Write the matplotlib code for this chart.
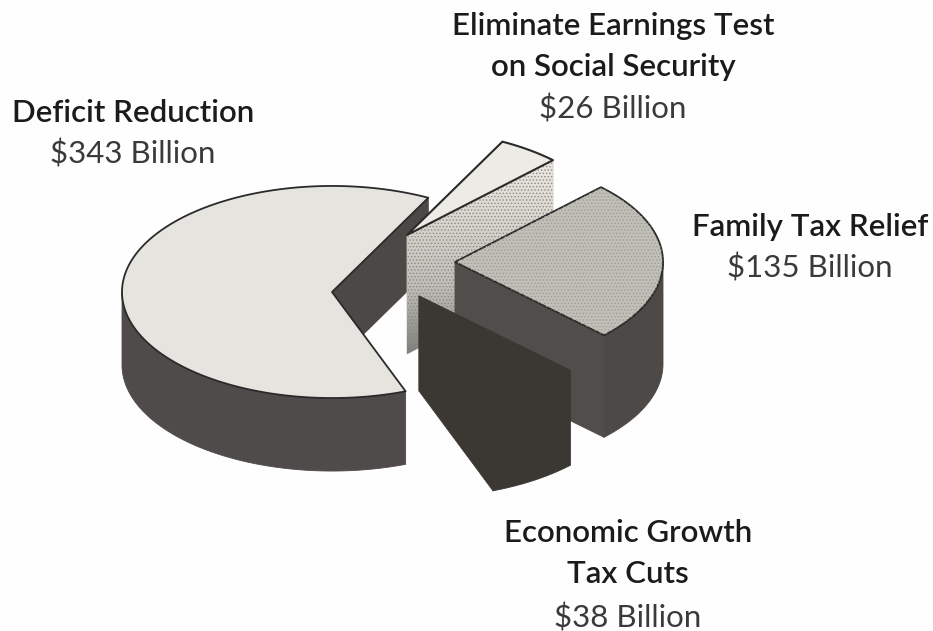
import numpy as np
import matplotlib
matplotlib.use("Agg")
import matplotlib.pyplot as plt
from matplotlib.colors import LinearSegmentedColormap
from matplotlib.patches import Polygon

# Budget uses, in billions of dollars, clockwise from the small upper wedge
categories = ["Eliminate Earnings Test\non Social Security", "Family Tax Relief",
              "Economic Growth\nTax Cuts", "Deficit Reduction"]
values = [26, 135, 38, 343]
value_labels = ["$26 Billion", "$135 Billion", "$38 Billion", "$343 Billion"]

# Layout of the exploded pie, in figure pixels
START_ANGLE = 62.7
TILT = 0.505
radii = [208, 208, 211, 210]
apexes = [(407, 235), (455, 262), (419, 296), (332, 292)]
depths = [119, 102, 95, 73]
label_centers = [(613, [26, 67, 109]), (810, [227, 268]),
                 (628, [533, 574, 618]), (133, [113, 154])]

EDGE = "#2b2a2a"
plt.rcParams["hatch.linewidth"] = 0.6

fig = plt.figure(figsize=(9.33, 6.31), dpi=100, facecolor="#fefefe")
ax = fig.add_axes([0, 0, 1, 1])
ax.set_xlim(0, 933)
ax.set_ylim(631, 0)
ax.axis("off")

# Sweep of each wedge follows from its share of the total
sweeps = 360.0 * np.array(values) / sum(values)
ends = START_ANGLE - np.cumsum(sweeps)
starts = ends + sweeps


def rim(i, a0, a1, n=160):
    """Points along wedge i's tilted circle from angle a0 to a1 (degrees)."""
    t = np.radians(np.linspace(a0, a1, n))
    return np.column_stack((apexes[i][0] + radii[i] * np.cos(t),
                            apexes[i][1] - radii[i] * TILT * np.sin(t)))


def draw(pts, color, z, lw=0.6, ec=None, hatch=None):
    p = Polygon(pts, closed=True, facecolor=color, edgecolor=ec or color,
                linewidth=lw, zorder=z, joinstyle="round")
    ax.add_patch(p)
    if hatch:
        ax.add_patch(Polygon(pts, closed=True, facecolor="none", edgecolor=hatch[0],
                             hatch=hatch[1], linewidth=0, zorder=z + 0.01))
    return p


def band(i, a0, a1):
    top = rim(i, a0, a1)
    return np.vstack((top, top[::-1] + [0, depths[i]]))


def cut_face(i, a):
    c = rim(i, a, a, 1)[0]
    apex = np.array(apexes[i], float)
    return np.array([apex, c, c + [0, depths[i]], apex + [0, depths[i]]])


def top_face(i):
    return np.vstack(([apexes[i]], rim(i, starts[i], ends[i])))


# Deficit Reduction: the large wedge with its rim and the inner cut showing
i = 3
draw(cut_face(i, ends[i]), "#4c4846", 2)
draw(band(i, starts[i], -180), "#4f4b4a", 2.1)
draw(top_face(i), "#e5e4de", 2.2, lw=1.3, ec=EDGE)

# Eliminate Earnings Test: pale face fading downward
i = 0
face = cut_face(i, ends[i])
patch = draw(face, "#c4c3bd", 4)
shade = np.linspace(0, 1, 256).reshape(-1, 1)
img = ax.imshow(shade, extent=(apexes[i][0], face[1][0], face[3][1], face[1][1]),
                cmap=LinearSegmentedColormap.from_list(
                    "fade", ["#ece9e2", "#d6d4cd", "#bdbcb6", "#7f7e7c"]),
                aspect="auto", zorder=4.05, interpolation="bilinear")
img.set_clip_path(patch)
draw(face, "none", 4.07, lw=0, ec="none", hatch=("#8d8a82", "....."))
draw(top_face(i), "#ecebe6", 4.2, lw=1.5, ec=EDGE)

# Family Tax Relief: stippled top with dark sides
i = 1
draw(cut_face(i, ends[i]), "#514d4b", 6)
draw(band(i, ends[i], 0), "#4d4947", 6.1)
draw(top_face(i), "#c0bfb8", 6.2, lw=1.3, ec=EDGE, hatch=("#9d9c95", "....."))

# Economic Growth Tax Cuts: all surfaces in the darkest tone
i = 2
dark = "#3b3733"
draw(cut_face(i, starts[i]), dark, 8)
draw(band(i, starts[i], ends[i]), dark, 8.1)
draw(cut_face(i, ends[i]), dark, 8.15)
draw(top_face(i), dark, 8.2)

# Wedge captions: name in the heavier weight, amount in the lighter one
for name, amount, (cx, ys) in zip(categories, value_labels, label_centers):
    lines = name.split("\n")
    for line, y in zip(lines, ys):
        ax.text(cx, y, line, ha="center", va="center", family="Lato",
                fontsize=22.5, fontweight="semibold", color="#1b1b1b", zorder=20)
    ax.text(cx, ys[len(lines)], amount, ha="center", va="center", family="Lato",
            fontsize=22.5, fontweight="normal", color="#3a3a3a", zorder=20)

fig.savefig("out.png", dpi=100, facecolor=fig.get_facecolor())
